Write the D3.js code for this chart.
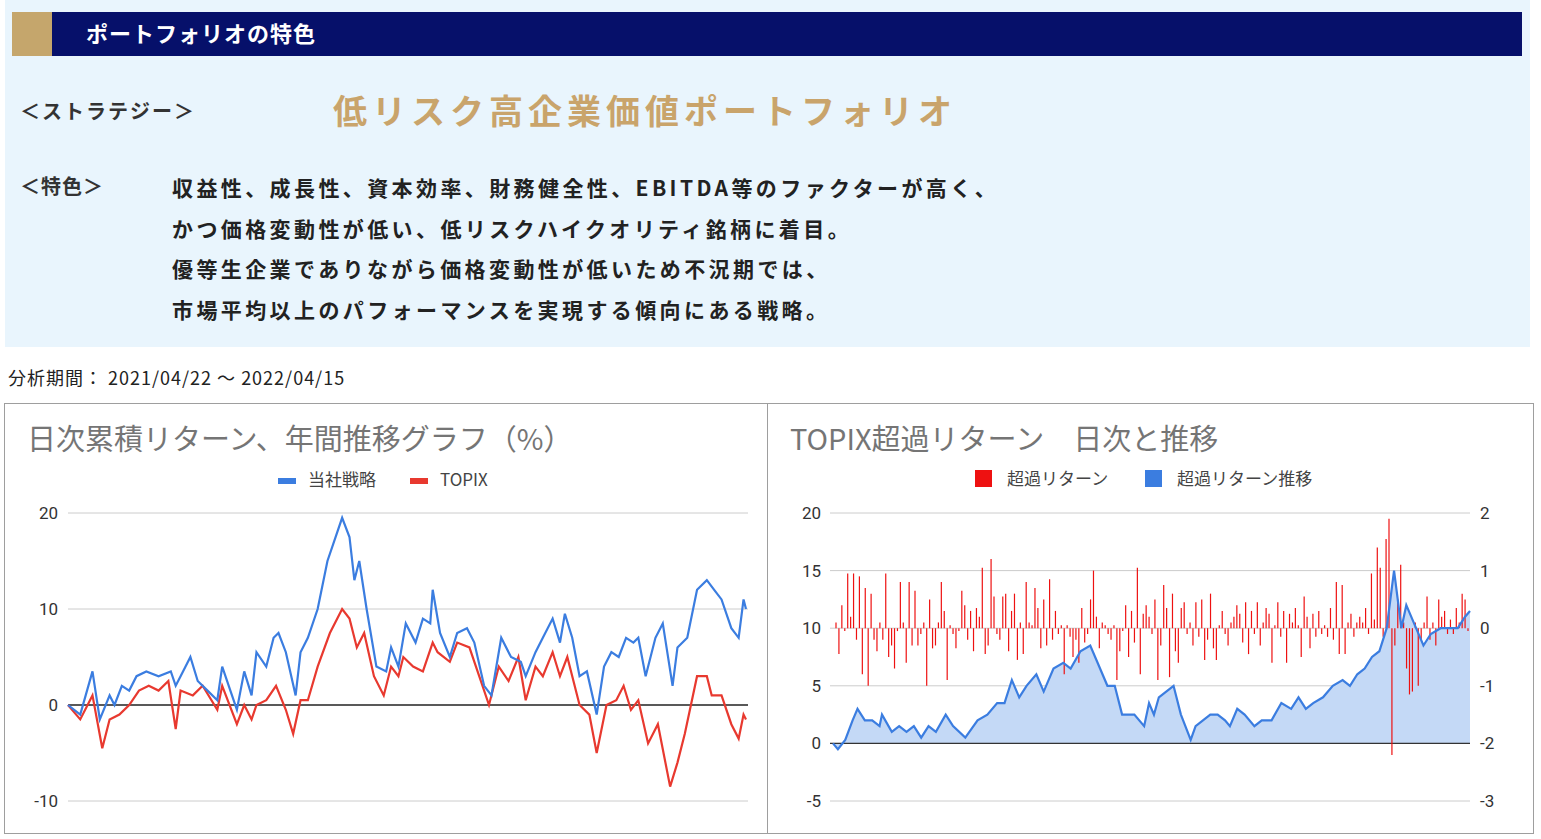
<!DOCTYPE html>
<html><head><meta charset="utf-8">
<script src="https://cdn.jsdelivr.net/npm/d3@7"></script>
<style>body{margin:0;background:#fff;font-family:"Noto Sans CJK JP","Noto Sans",sans-serif}</style>
</head><body><svg id="c" width="1541" height="839"></svg>
<script>
// Left chart: [relative x (0..1385), value]
const strategyPts=[[0,0],[25,-1],[50,3.5],[65,-1.5],[85,1],[95,0],[110,2],[125,1.5],[140,3],[160,3.5],[185,3],[210,3.5],[220,2],[230,3],[250,5],[265,2.5],[285,1.5],[305,0.5],[315,4],[335,1],[345,-0.5],[360,3.5],[375,1],[385,5.5],[405,4],[420,7],[430,7.5],[445,5.5],[465,1],[475,5.5],[490,7],[510,10],[530,15],[560,19.5],[575,17.5],[585,13],[595,15],[610,10],[630,4],[650,3.5],[660,6],[675,4],[690,8.5],[710,6.5],[725,9],[740,8.5],[745,12],[760,7.5],[780,5],[795,7.5],[815,8],[830,6.5],[850,2],[865,1],[885,7],[905,5],[925,4.5],[935,3],[955,5.5],[970,7],[990,9],[1005,6.5],[1015,9.5],[1030,7],[1045,3],[1060,3.5],[1080,-1],[1095,4],[1110,5.5],[1125,5],[1140,7],[1155,6.5],[1165,7],[1180,3],[1200,7],[1215,8.5],[1235,2],[1245,6],[1265,7],[1285,12],[1305,13],[1320,12],[1335,11],[1355,8],[1370,7],[1380,11],[1385,10]];
const topixPts=[[0,0],[25,-1.5],[50,1],[70,-4.5],[85,-1.5],[105,-1],[125,0],[145,1.5],[165,2],[185,1.5],[205,2.5],[220,-2.5],[230,1.5],[255,1],[275,2],[305,-0.5],[315,2],[345,-2],[360,0],[375,-1.5],[385,0],[405,0.5],[425,2],[445,-0.5],[460,-3],[475,0.5],[490,0.5],[510,4],[535,7.5],[560,10],[575,9],[590,6],[605,7.5],[625,3],[645,1],[660,4],[675,3],[685,5],[705,4],[725,3.5],[745,6.5],[755,5.5],[780,4.5],[795,6.5],[820,6],[840,3],[860,0],[880,4],[900,2.5],[920,5],[935,0.5],[955,4],[970,3],[990,5.5],[1005,3],[1020,5],[1045,0],[1065,-1],[1080,-5],[1100,0],[1120,0.5],[1135,2],[1150,-0.5],[1165,0.5],[1185,-4],[1205,-2],[1230,-8.5],[1245,-6],[1260,-3],[1285,3],[1305,3],[1315,1],[1335,1],[1355,-2],[1370,-3.5],[1380,-1],[1385,-1.5]];
// Right chart cumulative excess (left axis) [relative x (0..1300), value]
const excessPts=[[0,0],[10,-0.5],[25,0.3],[40,2],[50,3],[65,2],[80,2],[95,1.5],[100,2.5],[120,1],[135,1.5],[150,1],[165,1.5],[180,0.5],[195,1.5],[210,1],[230,2.5],[245,1.5],[270,0.5],[295,2],[315,2.5],[335,3.5],[350,3.5],[365,5.5],[380,4],[395,5],[415,6],[430,4.5],[450,6.5],[470,7],[485,6.5],[505,8],[525,8.5],[540,7],[560,5],[575,5],[590,2.5],[615,2.5],[635,1.5],[645,3.5],[655,2.5],[665,4],[680,4.5],[695,5],[710,2.5],[730,0.3],[740,1.5],[755,2],[770,2.5],[785,2.5],[800,2],[810,1.5],[825,3],[840,2.5],[860,1.5],[875,2],[895,2],[915,3.5],[935,3],[950,4],[965,3],[980,3.5],[1000,4],[1020,5],[1040,5.5],[1055,5],[1070,6],[1085,6.5],[1100,7.5],[1115,8],[1130,10],[1145,15],[1160,10],[1170,12],[1185,10.5],[1205,8.5],[1220,9.5],[1240,10],[1255,10],[1275,10],[1290,11],[1300,11.5]];
// Daily excess return (right axis, %)
const dailyExcess=[0.1,-0.45,0.4,-0.05,0.95,0.2,0.95,-0.2,0.9,-0.8,0.7,-1.0,0.6,-0.2,-0.4,0.1,-0.2,0.95,-0.5,-0.3,-0.7,-0.05,0.8,0.1,-0.6,0.8,-0.3,0.65,-0.3,-0.1,0.1,-1.0,0.5,-0.35,-0.3,0.1,0.8,0.3,-0.9,0.05,-0.1,-0.35,-0.05,0.65,0.4,-0.2,0.3,-0.4,0.35,0.2,1.05,-0.45,-0.3,1.2,0.55,-0.1,-0.2,0.55,0.6,-0.4,0.3,0.6,-0.55,0.1,-0.45,0.8,0.1,0.05,0.7,0.35,-0.35,0.5,-0.3,0.85,-0.2,0.3,-0.1,0.05,-0.8,0.05,-0.15,-0.5,-0.2,-0.6,0.35,-0.25,-0.1,0.5,1.0,0.2,-0.35,0.1,0.05,-0.1,-0.2,0.05,-0.9,-0.4,-0.05,0.4,-0.5,0.3,-0.25,1.05,-0.8,0.25,0.4,0.2,-0.1,0.5,-0.9,-0.3,0.75,0.35,-0.85,0.6,-0.4,-0.6,0.35,0.45,-0.1,0.1,-0.3,0.45,-0.15,0.5,-0.55,-0.2,0.6,-0.35,-0.55,0.05,0.3,-0.1,-0.3,0.1,0.2,0.4,0.25,-0.25,0.45,-0.45,0.3,-0.1,0.45,-0.3,0.1,0.35,0.25,-0.6,0.05,0.45,-0.15,0.3,-0.6,0.25,0.1,0.35,0.05,-0.5,0.55,0.2,-0.35,0.25,-0.15,0.3,-0.1,0.05,-0.15,0.35,-0.2,0.8,-0.45,0.75,-0.45,0.1,0.25,-0.15,0.1,0.2,0.1,0.35,-0.1,0.95,0.15,1.4,1.05,-0.15,1.55,1.9,-2.2,-0.3,0.5,1.1,0.1,-0.7,-1.15,-1.1,0.1,-1.0,-0.2,0.1,0.55,-0.2,0.1,-0.3,0.5,0.2,0.3,-0.1,0.15,-0.1,0.35,0.1,0.6,0.5,-0.05];
const leftTicks=[20,10,0,-10];
const rightTicksL=[20,15,10,5,0,-5];
const rightTicksR=[2,1,0,-1,-2,-3];
const features=["収益性、成長性、資本効率、財務健全性、EBITDA等のファクターが高く、","かつ価格変動性が低い、低リスクハイクオリティ銘柄に着目。","優等生企業でありながら価格変動性が低いため不況期では、","市場平均以上のパフォーマンスを実現する傾向にある戦略。"];

const svg=d3.select("#c");
svg.append("rect").attr("x",5).attr("y",0).attr("width",1525).attr("height",347).attr("fill","#e9f5fd");
svg.append("rect").attr("x",12).attr("y",12).attr("width",1510).attr("height",44).attr("fill","#06106a");
svg.append("rect").attr("x",12).attr("y",12).attr("width",40).attr("height",44).attr("fill","#c5a66c");
svg.append("text").attr("x",86).attr("y",42).attr("fill","#fff").attr("font-size",22).attr("font-weight",700).attr("letter-spacing",1).text("ポートフォリオの特色");
svg.append("text").attr("x",20).attr("y",119).attr("fill","#333").attr("font-size",20).attr("font-weight",700).attr("letter-spacing",2).text("＜ストラテジー＞");
svg.append("text").attr("x",333).attr("y",124).attr("fill","#c9a46b").attr("font-size",34).attr("font-weight",700).attr("letter-spacing",5).text("低リスク高企業価値ポートフォリオ");
svg.append("text").attr("x",20).attr("y",194).attr("fill","#333").attr("font-size",20).attr("font-weight",700).attr("letter-spacing",1).text("＜特色＞");
features.forEach((t,i)=>svg.append("text").attr("x",172).attr("y",196+i*40.5).attr("fill","#222").attr("font-size",21).attr("font-weight",700).attr("letter-spacing",3.4).text(t));
svg.append("text").attr("x",8).attr("y",385).attr("fill","#222").attr("font-size",18).attr("letter-spacing",1).text("分析期間： 2021/04/22 ～ 2022/04/15");
svg.append("rect").attr("x",4.5).attr("y",403.5).attr("width",763).attr("height",430).attr("fill","#fff").attr("stroke","#9e9e9e");
svg.append("rect").attr("x",767.5).attr("y",403.5).attr("width",766).attr("height",430).attr("fill","#fff").attr("stroke","#9e9e9e");

// ---- left chart
const lx=d3.scaleLinear().domain([0,1385]).range([68,746]);
const ly=d3.scaleLinear().domain([-10,20]).range([801,513]);
svg.append("text").attr("x",27).attr("y",450).attr("fill","#757575").attr("font-size",29).text("日次累積リターン、年間推移グラフ（%）");
leftTicks.forEach(t=>{
  svg.append("line").attr("x1",68).attr("x2",748).attr("y1",ly(t)).attr("y2",ly(t)).attr("stroke",t===0?"#222":"#ccc").attr("stroke-width",t===0?1.3:1);
  svg.append("text").attr("x",58).attr("y",ly(t)+6).attr("text-anchor","end").attr("font-size",17).attr("fill","#333").attr("font-family","Roboto,sans-serif").text(t);
});
const lineL=d3.line().x(d=>lx(d[0])).y(d=>ly(d[1]));
svg.append("path").attr("d",lineL(topixPts)).attr("fill","none").attr("stroke","#e8392f").attr("stroke-width",2.2);
svg.append("path").attr("d",lineL(strategyPts)).attr("fill","none").attr("stroke","#3b7de0").attr("stroke-width",2.2);
[[278,"#3b7de0","当社戦略"],[410,"#e8392f","TOPIX"]].forEach(([x,c,t])=>{
  svg.append("rect").attr("x",x).attr("y",478).attr("width",18).attr("height",6).attr("fill",c);
  svg.append("text").attr("x",x+30).attr("y",486).attr("font-size",17).attr("fill","#444").text(t);
});

// ---- right chart
const rx=d3.scaleLinear().domain([0,1300]).range([833,1470]);
const ryL=d3.scaleLinear().domain([-5,20]).range([801,513]);
const ryR=d3.scaleLinear().domain([-3,2]).range([801,513]);
svg.append("text").attr("x",790).attr("y",450).attr("fill","#757575").attr("font-size",29).text("TOPIX超過リターン　日次と推移");
rightTicksL.forEach((t,i)=>{
  svg.append("line").attr("x1",830).attr("x2",1470).attr("y1",ryL(t)).attr("y2",ryL(t)).attr("stroke","#ccc");
  svg.append("text").attr("x",821).attr("y",ryL(t)+6).attr("text-anchor","end").attr("font-size",17).attr("fill","#333").attr("font-family","Roboto,sans-serif").text(t);
  svg.append("text").attr("x",1480).attr("y",ryR(rightTicksR[i])+6).attr("font-size",17).attr("fill","#333").attr("font-family","Roboto,sans-serif").text(rightTicksR[i]);
});
const area=d3.area().x(d=>rx(d[0])).y0(ryL(0)).y1(d=>ryL(d[1]));
svg.append("path").attr("d",area(excessPts)).attr("fill","#c4d9f6");
svg.append("line").attr("x1",830).attr("x2",1470).attr("y1",ryL(0)).attr("y2",ryL(0)).attr("stroke","#333").attr("stroke-width",1.2);
const bx=d3.scaleLinear().domain([0,dailyExcess.length-1]).range([836,1468]);
svg.append("g").selectAll("line").data(dailyExcess).join("line")
  .attr("x1",(d,i)=>bx(i)).attr("x2",(d,i)=>bx(i)).attr("y1",ryR(0)).attr("y2",d=>ryR(d))
  .attr("stroke","#ee1111").attr("stroke-width",1.2);
svg.append("path").attr("d",d3.line().x(d=>rx(d[0])).y(d=>ryL(d[1]))(excessPts)).attr("fill","none").attr("stroke","#3b7de0").attr("stroke-width",2.2);
[[975,"#ee1111","超過リターン"],[1145,"#3b7de0","超過リターン推移"]].forEach(([x,c,t])=>{
  svg.append("rect").attr("x",x).attr("y",470).attr("width",17).attr("height",17).attr("fill",c);
  svg.append("text").attr("x",x+32).attr("y",485).attr("font-size",17).attr("fill","#444").text(t);
});
</script></body></html>
